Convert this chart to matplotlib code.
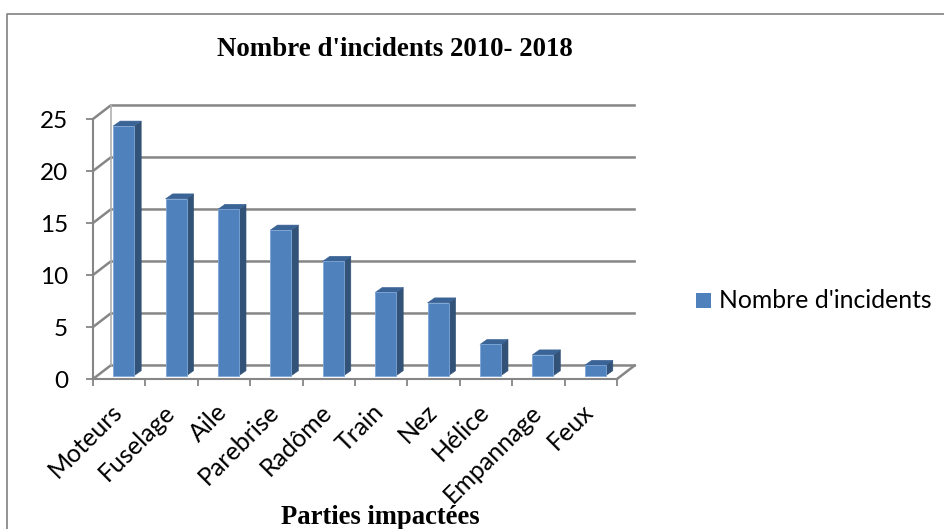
import matplotlib
matplotlib.use('Agg')
import matplotlib.pyplot as plt
from matplotlib.patches import Polygon, Rectangle
from matplotlib.lines import Line2D

categories = ['Moteurs', 'Fuselage', 'Aile', 'Parebrise', 'Radôme',
              'Train', 'Nez', 'Hélice', 'Empannage', 'Feux']
incidents = [24, 17, 16, 14, 11, 8, 7, 3, 2, 1]
yticks = [0, 5, 10, 15, 20, 25]

W, H = 944, 529
GRID = '#868686'
FRONT = '#4f81bd'
SIDE = '#325278'
TOP = '#3a6396'

plt.rcParams['font.family'] = ['Lato', 'DejaVu Sans']

fig = plt.figure(figsize=(W / 100, H / 100), dpi=100)
fig.patch.set_facecolor('white')

# outer frame of the chart, open at the bottom
fig.add_artist(Line2D([7 / W, 7 / W, 1], [0, 1 - 14 / H, 1 - 14 / H],
                      color='#8a8a8a', lw=1.3, transform=fig.transFigure))

# front plane of the fake 3D box
ax = fig.add_axes([93 / W, 1 - 379 / H, 524 / W, 260 / H])
ax.set_xlim(0, len(categories))
ax.set_ylim(0, 25)
ax.patch.set_visible(False)

# wall depth, in data units
dx, dy = 0.336, 1.3
for v in yticks:
    ax.plot([0, dx, len(categories) + dx], [v, v + dy, v + dy],
            color=GRID, lw=1.8, clip_on=False, zorder=1, solid_joinstyle='miter')
ax.plot([dx, dx], [dy, 25 + dy], color='#b0b0b0', lw=1.2, clip_on=False, zorder=1)
ax.plot([len(categories), len(categories) + dx], [0, dy],
        color=GRID, lw=1.8, clip_on=False, zorder=1)

# bars: face, then side and top as offset polygons
bw, off = 0.40, 0.085
bdx, bdy = 0.135, 0.48
base = 0.32
for i, v in enumerate(incidents):
    left = i + 0.5 + off - bw / 2
    right = left + bw
    ax.bar(left, v, bw, bottom=base, align='edge', color=FRONT,
           edgecolor='#7fa6d6', lw=0.6, zorder=3)
    top = base + v
    ax.add_patch(Polygon([(right, base), (right + bdx, base + bdy),
                          (right + bdx, top + bdy), (right, top)],
                         fc=SIDE, ec=SIDE, lw=0.4, zorder=2, clip_on=False))
    ax.add_patch(Polygon([(left, top), (left + bdx, top + bdy),
                          (right + bdx, top + bdy), (right, top)],
                         fc=TOP, ec=TOP, lw=0.4, zorder=2, clip_on=False))

for s in ['top', 'right']:
    ax.spines[s].set_visible(False)
for s in ['left', 'bottom']:
    ax.spines[s].set_color(GRID)
    ax.spines[s].set_linewidth(1.5)

ax.set_yticks(yticks)
ax.set_xticks(range(len(categories) + 1))
ax.set_xticklabels([])
ax.tick_params(axis='both', length=5, width=1.3, color=GRID)
ax.tick_params(axis='y', labelsize=17.5, pad=13, labelcolor='black')

# category labels rotated, anchored on their upper right end
for i, name in enumerate(categories):
    ax.annotate(name, xy=(i + 0.5, 0), xytext=(-9, -21), textcoords='offset pixels',
                rotation=45, ha='right', va='top', rotation_mode='anchor',
                fontsize=18, annotation_clip=False)

fig.text(395 / W, 1 - 49 / H, "Nombre d'incidents 2010- 2018", family='Liberation Serif',
         weight='bold', fontsize=19.4, ha='center', va='center')
fig.text(380 / W, 1 - 518 / H, 'Parties impactées', family='Liberation Serif',
         weight='bold', fontsize=19.2, ha='center', va='center')

# legend
fig.add_artist(Rectangle((696 / W, 1 - 308 / H), 15 / W, 15 / H, fc=FRONT, ec='none',
                         transform=fig.transFigure))
fig.text(719 / W, 1 - 300 / H, "Nombre d'incidents", fontsize=17.8, ha='left', va='center')

fig.savefig('out.png', dpi=100)
